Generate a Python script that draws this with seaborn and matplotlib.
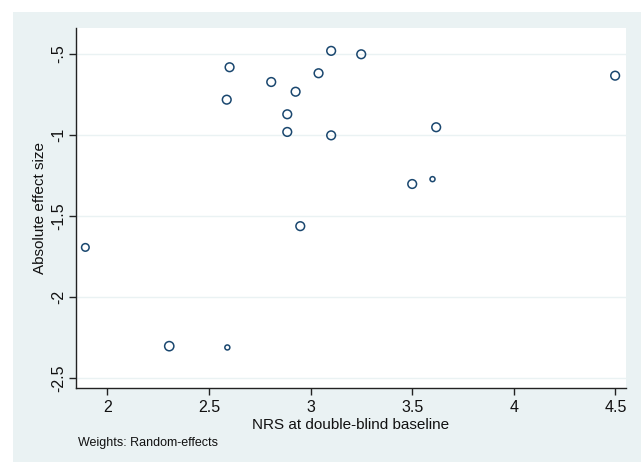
import matplotlib
matplotlib.use("Agg")
import matplotlib.pyplot as plt
import seaborn as sns
import pandas as pd

# Data
nrs_baseline = [2.601, 2.587, 2.806, 2.926, 2.885, 2.885, 3.039, 2.949, 3.101,
                3.249, 4.499, 3.101, 3.618, 3.500, 3.600, 1.891, 2.304, 2.590]
effect_size = [-0.582, -0.782, -0.673, -0.733, -0.872, -0.981, -0.619, -1.562, -0.481,
               -0.502, -0.634, -1.002, -0.952, -1.302, -1.272, -1.693, -2.302, -2.310]
weights = [1.0, 1.0, 1.0, 1.0, 1.0, 1.0, 1.0, 1.0, 1.0,
           1.0, 1.0, 1.0, 1.0, 1.0, 0.45, 0.8, 1.1, 0.45]
x_ticks = [2, 2.5, 3, 3.5, 4, 4.5]
x_ticklabels = ["2", "2.5", "3", "3.5", "4", "4.5"]
y_ticks = [-0.5, -1, -1.5, -2, -2.5]
y_ticklabels = ["-.5", "-1", "-1.5", "-2", "-2.5"]

df = pd.DataFrame({"x": nrs_baseline, "y": effect_size, "w": weights})

sns.set_style("white")
plt.rcParams["font.family"] = ["Liberation Sans", "DejaVu Sans"]

BG = "#eaf2f3"
NAVY = "#1a476f"

fig = plt.figure(figsize=(6.41, 4.62), dpi=100, facecolor="white")
# light graph region
fig.patches.append(plt.Rectangle((13 / 641, 0), 1 - 13 / 641, 1 - 12 / 462,
                                  transform=fig.transFigure, facecolor=BG,
                                  edgecolor="none", zorder=-10))
ax = fig.add_axes([75.5 / 641, 1 - 388 / 462, (625.7 - 75.5) / 641, (388 - 28) / 462])
ax.set_facecolor("white")

sns.scatterplot(data=df, x="x", y="y", size="w", sizes=(13, 44), size_norm=(0.45, 1.1),
                marker="o", facecolor="none", edgecolor=NAVY, linewidth=1.1,
                legend=False, ax=ax)

ax.set_xlim(1.8425, 4.551)
ax.set_ylim(-2.56, -0.34)
ax.set_xticks(x_ticks)
ax.set_xticklabels(x_ticklabels)
ax.set_yticks(y_ticks)
ax.set_yticklabels(y_ticklabels, rotation=90, va="center")
ax.grid(axis="y", color=BG, linewidth=1.0)
ax.set_axisbelow(True)
for side in ["top", "right"]:
    ax.spines[side].set_visible(False)
for side in ["left", "bottom"]:
    ax.spines[side].set_color("#222222")
    ax.spines[side].set_linewidth(1.0)
ax.tick_params(axis="both", direction="out", length=5, width=1.0, color="#222222",
               labelsize=11.5, labelcolor="#111111", bottom=True, left=True)
ax.tick_params(axis="y", pad=1.5)
ax.set_xlabel("NRS at double-blind baseline", fontsize=11, color="#111111", labelpad=2)
ax.set_ylabel("Absolute effect size", fontsize=11, color="#111111", labelpad=3)

fig.text(78 / 641, 1 - 443 / 462, "Weights: Random-effects", fontsize=9, color="#111111",
         va="center", ha="left")

fig.savefig("out.png", dpi=100, facecolor="white")
